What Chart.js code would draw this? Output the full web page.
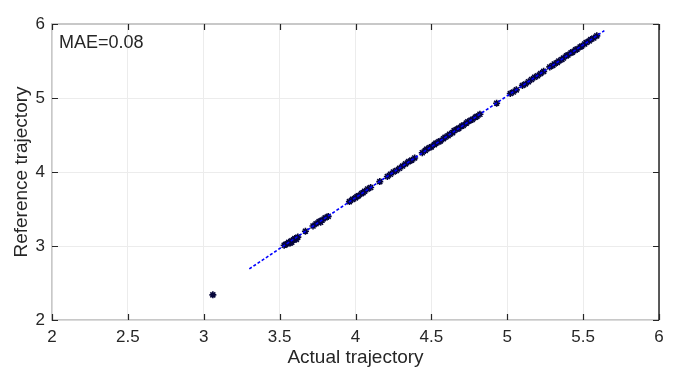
<!DOCTYPE html>
<html><head><meta charset="utf-8">
<script src="https://cdn.jsdelivr.net/npm/chart.js@4"></script>
<style>html,body{margin:0;padding:0;background:#fff}#wrap{width:679px;height:383px}</style>
</head><body><div id="wrap"><canvas id="c" width="679" height="383"></canvas></div>
<script>
const actualX = [3.06,
 3.53,3.54,3.55,3.56,3.57,3.58,3.58,3.59,3.60,3.61,3.62,
 3.67,
 3.72,3.74,3.76,3.77,3.78,3.80,3.82,
 3.96,3.98,4.00,4.01,4.02,4.04,4.05,4.06,4.08,4.10,
 4.16,
 4.21,4.23,4.25,4.27,4.29,4.31,
 4.33,4.35,4.37,4.39,
 4.44,4.46,4.47,4.49,4.50,4.52,4.53,4.55,4.56,4.58,4.59,4.61,4.62,4.64,4.65,4.67,4.68,4.70,4.71,4.73,4.74,4.76,4.77,4.79,4.80,4.82,
 4.93,
 5.02,5.04,5.06,
 5.10,5.12,5.14,5.16,5.18,5.20,5.22,5.24,
 5.28,5.30,5.31,5.33,5.34,5.36,5.37,5.39,5.40,5.42,5.43,5.45,5.46,5.48,5.49,5.51,5.52,5.54,5.55,5.57,5.59];
const referenceY = [2.34,
 3.01,3.02,3.03,3.05,3.04,3.07,3.05,3.08,3.10,3.09,3.12,
 3.20,
 3.27,3.30,3.33,3.32,3.35,3.38,3.40,
 3.60,3.63,3.65,3.67,3.68,3.71,3.72,3.74,3.77,3.79,
 3.87,
 3.94,3.97,4.00,4.02,4.05,4.08,
 4.11,4.14,4.16,4.19,
 4.26,4.29,4.31,4.33,4.34,4.37,4.39,4.41,4.42,4.45,4.47,4.49,4.51,4.53,4.56,4.58,4.59,4.62,4.63,4.66,4.68,4.70,4.71,4.74,4.75,4.78,
 4.93,
 5.06,5.08,5.11,
 5.17,5.19,5.22,5.25,5.28,5.30,5.33,5.36,
 5.42,5.44,5.46,5.48,5.50,5.52,5.54,5.57,5.58,5.61,5.62,5.65,5.66,5.69,5.70,5.73,5.75,5.77,5.79,5.81,5.84];
const fitX = [3.30, 5.64];
const fitY = [2.69, 5.91];
const xTicks = [2, 2.5, 3, 3.5, 4, 4.5, 5, 5.5, 6];
const xTickLabels = ['2', '2.5', '3', '3.5', '4', '4.5', '5', '5.5', '6'];
const yTicks = [2, 3, 4, 5, 6];
const yTickLabels = ['2', '3', '4', '5', '6'];
const maeLabel = 'MAE=0.08';

const FONT = '"Liberation Sans", Arial, sans-serif';
const TXT = '#262626';

const framePlugin = {
  id: 'frame',
  afterDraw(chart) {
    const {ctx, chartArea: a, scales: {x, y}} = chart;
    ctx.save();
    ctx.strokeStyle = '#c8c8c8'; ctx.lineWidth = 2;
    ctx.beginPath(); ctx.moveTo(a.left, a.top); ctx.lineTo(a.right, a.top); ctx.stroke();
    ctx.strokeStyle = '#262626'; ctx.lineWidth = 1.5;
    ctx.beginPath(); ctx.moveTo(a.right, a.top); ctx.lineTo(a.right, a.bottom); ctx.stroke();
    ctx.lineWidth = 1.2; ctx.strokeStyle = '#262626';
    const tl = 6;
    ctx.beginPath();
    xTicks.forEach(v => {
      const px = Math.round(x.getPixelForValue(v)) + 0.5;
      ctx.moveTo(px, a.bottom); ctx.lineTo(px, a.bottom - tl);
      ctx.moveTo(px, a.top); ctx.lineTo(px, a.top + tl);
    });
    yTicks.forEach(v => {
      const py = Math.round(y.getPixelForValue(v)) + 0.5;
      ctx.moveTo(a.left, py); ctx.lineTo(a.left + tl, py);
      ctx.moveTo(a.right, py); ctx.lineTo(a.right - tl, py);
    });
    ctx.stroke();
    ctx.fillStyle = TXT; ctx.font = '18px ' + FONT;
    ctx.textBaseline = 'middle'; ctx.textAlign = 'left';
    ctx.fillText(maeLabel, a.left + 7, a.top + 19);
    ctx.restore();
  }
};

new Chart(document.getElementById('c'), {
  type: 'scatter',
  data: {
    datasets: [
      {
        label: 'fit',
        type: 'line',
        data: fitX.map((v, i) => ({x: v, y: fitY[i]})),
        borderColor: '#0000ff',
        borderWidth: 1.6,
        borderDash: [3, 2],
        pointRadius: 0,
        fill: false,
        order: 0
      },
      {
        label: 'data',
        data: actualX.map((v, i) => ({x: v, y: referenceY[i]})),
        pointStyle: 'star',
        pointRadius: 3.5,
        borderColor: '#05053a',
        backgroundColor: '#05053a',
        borderWidth: 1.6,
        order: 1
      }
    ]
  },
  options: {
    responsive: false,
    animation: false,
    devicePixelRatio: 1,
    layout: {padding: {top: 24, right: 20, left: 0, bottom: 0}},
    plugins: {legend: {display: false}, tooltip: {enabled: false}},
    scales: {
      x: {
        type: 'linear', min: 2, max: 6,
        afterBuildTicks: s => { s.ticks = xTicks.map(v => ({value: v})); },
        afterFit: s => { s.height = 63; },
        grid: {color: '#ececec', drawTicks: false, lineWidth: 1},
        border: {display: true, color: '#c8c8c8', width: 1.5},
        ticks: {color: TXT, font: {family: FONT, size: 17}, padding: 7, maxRotation: 0,
          callback: (v, i) => xTickLabels[i]},
        title: {display: true, text: 'Actual trajectory', color: TXT, font: {family: FONT, size: 19}, padding: {top: 0, bottom: 14}}
      },
      y: {
        type: 'linear', min: 2, max: 6,
        afterBuildTicks: s => { s.ticks = yTicks.map(v => ({value: v})); },
        afterFit: s => { s.width = 52; },
        grid: {color: '#ececec', drawTicks: false, lineWidth: 1},
        border: {display: true, color: '#c8c8c8', width: 1.5},
        ticks: {color: TXT, font: {family: FONT, size: 17}, padding: 7,
          callback: (v, i) => yTickLabels[i]},
        title: {display: true, text: 'Reference trajectory', color: TXT, font: {family: FONT, size: 19}, padding: {top: 10, bottom: 0}}
      }
    }
  },
  plugins: [framePlugin]
});
</script>
</body></html>
